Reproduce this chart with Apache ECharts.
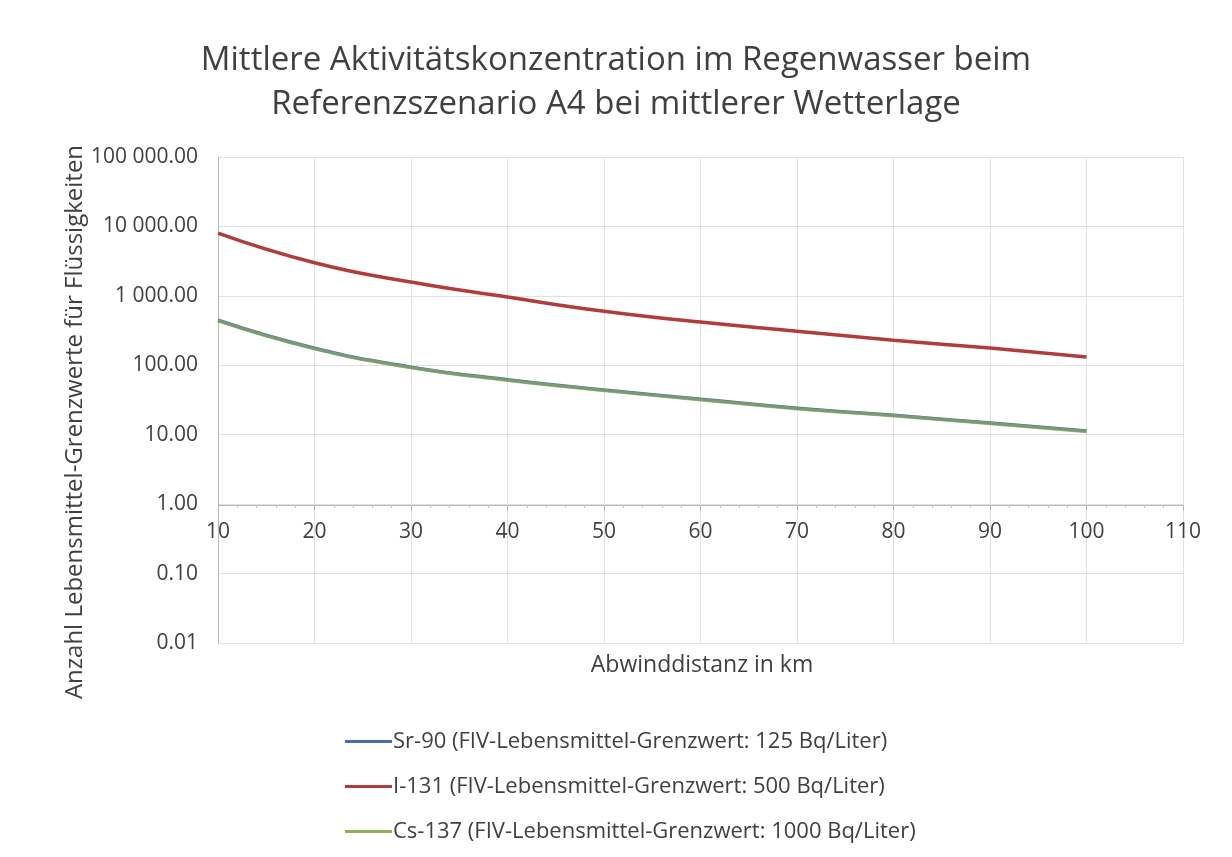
<!DOCTYPE html>
<html>
<head>
<meta charset="utf-8">
<script src="https://cdn.jsdelivr.net/npm/echarts@6/dist/echarts.min.js"></script>
<style>
  html, body { margin: 0; padding: 0; background: #fff; }
  #chart { width: 1232px; height: 857px; }
</style>
</head>
<body>
<div id="chart"></div>
<script>
// distances in km
const distances = [10, 20, 30, 40, 50, 60, 70, 80, 90, 100];
// number of food limit values (log scale)
const sr90 = [445, 176, 94, 62, 44, 32.5, 24, 19, 14.7, 11.3];
const i131 = [8000, 3000, 1580, 960, 600, 420, 310, 230, 177, 132];
const cs137 = [440, 174, 93, 61, 43.5, 32, 23.7, 18.8, 14.5, 11.1];

const seriesNames = [
  'Sr-90 (FIV-Lebensmittel-Grenzwert: 125 Bq/Liter)',
  'I-131 (FIV-Lebensmittel-Grenzwert: 500 Bq/Liter)',
  'Cs-137 (FIV-Lebensmittel-Grenzwert: 1000 Bq/Liter)'
];
const colors = ['#4a6ea8', '#b13c3c', '#8fae5a'];

const font = 'Open Sans';

function fmt(v) {
  const s = Number(v).toFixed(2);
  const parts = s.split('.');
  parts[0] = parts[0].replace(/\B(?=(\d{3})+(?!\d))/g, ' ');
  return parts.join('.');
}

function pairs(arr) {
  return distances.map((d, i) => [d, arr[i]]);
}

const chart = echarts.init(document.getElementById('chart'));
chart.setOption({
  backgroundColor: '#fff',
  animation: false,
  color: colors,
  title: {
    text: 'Mittlere Aktivitätskonzentration im Regenwasser beim\nReferenzszenario A4 bei mittlerer Wetterlage',
    left: 'center',
    top: 34,
    textStyle: { fontFamily: font, fontSize: 33, fontWeight: 'normal', color: '#404040', lineHeight: 44 }
  },
  grid: { left: 218, right: 49, top: 157, bottom: 214 },
  legend: {
    orient: 'vertical',
    left: 340,
    top: 724,
    itemWidth: 47,
    itemHeight: 3,
    itemGap: 20,
    icon: 'rect',
    data: seriesNames,
    textStyle: { fontFamily: font, fontSize: 22, color: '#404040', lineHeight: 25, padding: [0, 0, 0, -4] }
  },
  xAxis: {
    type: 'value',
    min: 10,
    max: 110,
    interval: 10,
    offset: -138,
    axisLine: { show: true, onZero: false, lineStyle: { color: '#b8b8b8', width: 1 } },
    axisTick: { show: true, length: 6, lineStyle: { color: '#b8b8b8' } },
    minorTick: { show: true, splitNumber: 5, length: 3, lineStyle: { color: '#c4c4c4' } },
    axisLabel: { fontFamily: font, fontSize: 21, color: '#404040', margin: 17 },
    splitLine: { show: true, lineStyle: { color: '#e2e2e2', width: 1 } }
  },
  yAxis: {
    type: 'log',
    logBase: 10,
    min: 0.01,
    max: 100000,
    axisLine: { show: true, lineStyle: { color: '#b8b8b8', width: 1 } },
    axisTick: { show: false },
    axisLabel: { fontFamily: font, fontSize: 21, color: '#404040', margin: 20, formatter: fmt },
    splitLine: { show: true, lineStyle: { color: '#e2e2e2', width: 1 } }
  },
  graphic: [
    {
      type: 'text',
      x: 702,
      y: 665,
      style: {
        text: 'Abwinddistanz in km',
        font: '23px "Open Sans"',
        fill: '#404040',
        align: 'center',
        verticalAlign: 'middle'
      }
    },
    {
      type: 'text',
      x: 75,
      y: 422,
      rotation: Math.PI / 2,
      style: {
        text: 'Anzahl Lebensmittel-Grenzwerte für Flüssigkeiten',
        font: '24px "Open Sans"',
        fill: '#404040',
        align: 'center',
        verticalAlign: 'middle'
      }
    }
  ],
  series: [
    { name: seriesNames[0], type: 'line', smooth: true, symbol: 'none', data: pairs(sr90), lineStyle: { width: 3.5 }, z: 2 },
    { name: seriesNames[1], type: 'line', smooth: true, symbol: 'none', data: pairs(i131), lineStyle: { width: 3.5 }, z: 3 },
    { name: seriesNames[2], type: 'line', smooth: true, symbol: 'none', data: pairs(cs137), lineStyle: { width: 3.5, opacity: 0.7 }, z: 4 }
  ]
});
</script>
</body>
</html>
